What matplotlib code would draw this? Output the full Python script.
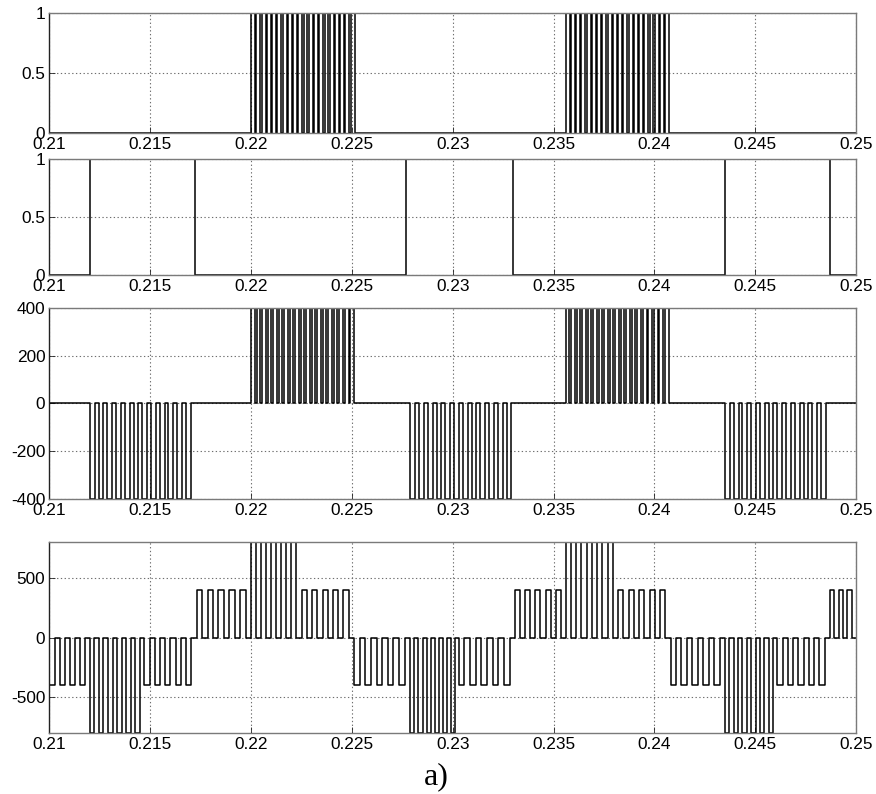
import matplotlib.pyplot as plt

plt.rcParams['font.family'] = ['Liberation Sans', 'DejaVu Sans']
plt.rcParams['font.size'] = 12.4

# time axis (s)
t_first, t_last = 0.21, 0.25
x_ticks = [0.21, 0.215, 0.22, 0.225, 0.23, 0.235, 0.24, 0.245, 0.25]
x_labels = ['0.21', '0.215', '0.22', '0.225', '0.23', '0.235', '0.24', '0.245', '0.25']

# panel 1: gate signal, positive group (bursts of narrow notches)
g1_start = [0.2200, 0.2356]
g1_end = [0.2252, 0.2408]
g1_pulses = [20, 20]
g1_duty = [0.75, 0.75]

# panel 2: gate signal, negative group (plain blocks)
g2_rise = [0.2120, 0.2277, 0.2435]
g2_fall = [0.2172, 0.2330, 0.2487]

# panel 3: output voltage of one leg
v3_start = [0.2120, 0.2200, 0.2279, 0.2356, 0.2435]
v3_end = [0.2172, 0.2252, 0.2331, 0.2408, 0.2487]
v3_level = [-400, 400, -400, 400, -400]
v3_pulses = [12, 19, 12, 19, 12]
v3_duty = [0.55, 0.65, 0.55, 0.65, 0.55]

# panel 4: line-to-line voltage
v4_start = [0.2100, 0.2120, 0.2147, 0.2173, 0.2200, 0.2225, 0.2251, 0.2279,
            0.2303, 0.2331, 0.2356, 0.2382, 0.2408, 0.2435, 0.2461, 0.2487]
v4_end = [0.2120, 0.2147, 0.2173, 0.2200, 0.2225, 0.2251, 0.2279, 0.2303,
          0.2331, 0.2356, 0.2382, 0.2408, 0.2435, 0.2461, 0.2487, 0.2500]
v4_level = [-400, -800, -400, 400, 800, 400, -400, -800,
            -400, 400, 800, 400, -400, -800, -400, 400]
v4_pulses = [4, 6, 5, 5, 5, 5, 5, 6, 5, 5, 5, 5, 5, 6, 5, 3]


def pulse_train(starts, ends, levels, counts, duties):
    # step signal: in every carrier period the level is held for duty*T, then 0
    t = [t_first]
    y = [0.0]
    for a, b, lev, n, d in zip(starts, ends, levels, counts, duties):
        T = (b - a) / n
        for k in range(n):
            t += [a + k * T, a + (k + d) * T]
            y += [lev, 0.0]
    t.append(t_last)
    y.append(y[-1])
    return t, y


def style(ax, yticks, ylabels, ylim):
    ax.set_xlim(t_first, t_last)
    ax.set_ylim(*ylim)
    ax.set_xticks(x_ticks)
    ax.set_xticklabels(x_labels)
    ax.set_yticks(yticks)
    ax.set_yticklabels(ylabels)
    ax.grid(True, color='#6e6e6e', linestyle=(0, (1.2, 2.2)), linewidth=0.8)
    ax.tick_params(direction='in', length=4, width=0.6, pad=3, colors='#222222',
                   labelcolor='black')
    for s in ax.spines.values():
        s.set_color('#7a7a7a')
        s.set_linewidth(1.0)
    ax.spines['left'].set_color('#222222')


fig = plt.figure(figsize=(8.76, 7.94), dpi=100)
L, W = 0.0565, 0.9207
ax1 = fig.add_axes([L, 0.8329, W, 0.1511])
ax2 = fig.add_axes([L, 0.6533, W, 0.1461])
ax3 = fig.add_axes([L, 0.3712, W, 0.2413])
ax4 = fig.add_axes([L, 0.0768, W, 0.2406])

lw = 1.1

t, y = pulse_train(g1_start, g1_end, [1, 1], g1_pulses, g1_duty)
ax1.step(t, y, where='post', color='black', lw=lw)
style(ax1, [0, 0.5, 1], ['0', '0.5', '1'], (0, 1))

t, y = pulse_train(g2_rise, g2_fall, [1, 1, 1], [1, 1, 1], [1, 1, 1])
ax2.step(t, y, where='post', color='black', lw=lw)
style(ax2, [0, 0.5, 1], ['0', '0.5', '1'], (0, 1))

t, y = pulse_train(v3_start, v3_end, v3_level, v3_pulses, v3_duty)
ax3.step(t, y, where='post', color='black', lw=lw)
style(ax3, [-400, -200, 0, 200, 400], ['-400', '-200', '0', '200', '400'], (-400, 400))

t, y = pulse_train(v4_start, v4_end, v4_level, v4_pulses, [0.5] * len(v4_level))
ax4.step(t, y, where='post', color='black', lw=lw)
style(ax4, [-500, 0, 500], ['-500', '0', '500'], (-800, 800))

fig.text(0.4977, 0.0215, 'a)', family=['Liberation Serif', 'DejaVu Serif'],
         fontsize=23, ha='center', va='center')

fig.savefig('out.png', dpi=100)
